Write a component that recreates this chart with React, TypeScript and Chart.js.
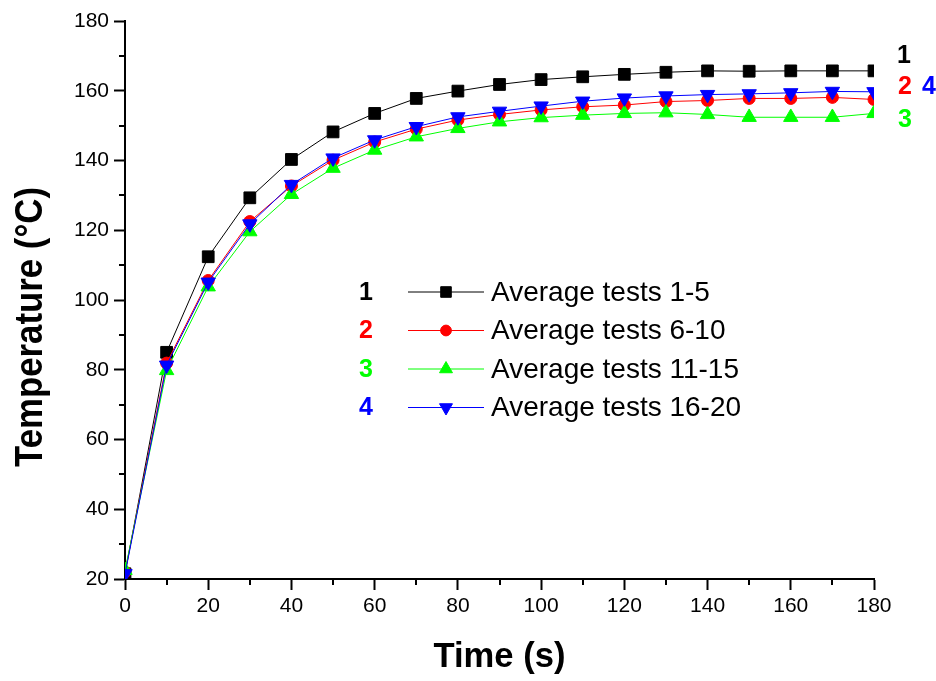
import React, { useEffect, useRef } from "react";
import { Chart, registerables } from "chart.js";
import { drawPoint } from "chart.js/helpers";

Chart.register(...registerables);

// ---- data ----
const times = [0, 10, 20, 30, 40, 50, 60, 70, 80, 90, 100, 110, 120, 130, 140, 150, 160, 170, 180];
const tests1to5 = [21.5, 85, 112.4, 129.3, 140.3, 148.2, 153.5, 157.8, 159.9, 161.8, 163.2, 164.0, 164.7, 165.3, 165.7, 165.6, 165.7, 165.7, 165.7];
const tests6to10 = [22, 81.9, 105.6, 122.5, 132.7, 140.1, 145.3, 149.0, 151.6, 153.2, 154.5, 155.4, 155.9, 156.9, 157.2, 157.8, 157.8, 158.1, 157.5];
const tests11to15 = [22.5, 79.8, 103.8, 119.6, 130.3, 137.8, 143.0, 146.8, 149.2, 151.1, 152.3, 153.0, 153.5, 153.7, 153.2, 152.4, 152.4, 152.4, 153.5];
const tests16to20 = [21.5, 81.3, 105.1, 121.8, 133.1, 140.7, 145.9, 149.7, 152.5, 154.1, 155.6, 157.0, 157.9, 158.5, 158.9, 159.1, 159.4, 159.8, 159.7];

const seriesLabels = ["Average tests 1-5", "Average tests 6-10", "Average tests 11-15", "Average tests 16-20"];
const seriesNumbers = ["1", "2", "3", "4"];
const xTitle = "Time (s)";
const yTitle = "Temperature (°C)";

const COLORS = ["#000000", "#ff0000", "#00ff00", "#0000ff"];
const STYLES = ["rect", "circle", "triangle", "triangle"];
const ROT = [0, 0, 0, 180];
const RADII = [8.3, 6, 8.3, 8.3];
const FONT = '"Liberation Sans", Arial, sans-serif';

const extrasPlugin = {
  id: "extras",
  afterDraw(chart: any) {
    const ctx = chart.ctx as CanvasRenderingContext2D;
    const xs = chart.scales.x;
    const ys = chart.scales.y;
    const area = chart.chartArea;
    ctx.save();
    // minor ticks
    ctx.strokeStyle = "#000";
    ctx.lineWidth = 2;
    for (let v = 10; v < 180; v += 20) {
      const px = Math.round(xs.getPixelForValue(v));
      ctx.beginPath();
      ctx.moveTo(px, area.bottom);
      ctx.lineTo(px, area.bottom + 6);
      ctx.stroke();
    }
    for (let v = 30; v < 180; v += 20) {
      const py = Math.round(ys.getPixelForValue(v));
      ctx.beginPath();
      ctx.moveTo(area.left, py);
      ctx.lineTo(area.left - 6, py);
      ctx.stroke();
    }
    ctx.fillStyle = "#000";
    // x title
    ctx.save();
    ctx.font = `bold 35px ${FONT}`;
    ctx.textAlign = "center";
    ctx.textBaseline = "alphabetic";
    let w = ctx.measureText(xTitle).width;
    ctx.translate((area.left + area.right) / 2, 667);
    ctx.scale(132 / w, 1);
    ctx.fillText(xTitle, 0, 0);
    ctx.restore();
    // y title
    ctx.save();
    ctx.font = `bold 39px ${FONT}`;
    ctx.textAlign = "center";
    ctx.textBaseline = "alphabetic";
    w = ctx.measureText(yTitle).width;
    ctx.translate(42, 327);
    ctx.rotate(-Math.PI / 2);
    ctx.scale(280 / w, 1);
    ctx.fillText(yTitle, 0, 0);
    ctx.restore();
    // right labels
    ctx.font = `bold 25px ${FONT}`;
    ctx.textAlign = "center";
    ctx.textBaseline = "middle";
    const rl: [string, number, number, string][] = [
      ["1", 904, 56, COLORS[0]],
      ["2", 905, 87, COLORS[1]],
      ["4", 929, 87, COLORS[3]],
      ["3", 905, 120, COLORS[2]],
    ];
    rl.forEach(([t, x, y, c]) => {
      ctx.fillStyle = c;
      ctx.fillText(t, x, y);
    });
    // legend
    const rows = [292, 330.5, 369, 407.5];
    chart.data.datasets.forEach((ds: any, i: number) => {
      const y = rows[i];
      ctx.font = `bold 25px ${FONT}`;
      ctx.textAlign = "center";
      ctx.textBaseline = "middle";
      ctx.fillStyle = COLORS[i];
      ctx.fillText(seriesNumbers[i], 366, y + 1);
      ctx.strokeStyle = COLORS[i];
      ctx.lineWidth = 1;
      ctx.beginPath();
      ctx.moveTo(408, y);
      ctx.lineTo(484, y);
      ctx.stroke();
      ctx.fillStyle = COLORS[i];
      drawPoint(ctx, { pointStyle: STYLES[i], radius: RADII[i] * 0.9, borderWidth: 1, rotation: ROT[i] } as any, 446, y);
      ctx.font = `28px ${FONT}`;
      ctx.textAlign = "left";
      ctx.fillStyle = "#000";
      ctx.fillText(seriesLabels[i], 491, y + 1);
    });
    ctx.restore();
  },
};

export default function App() {
  const ref = useRef<HTMLCanvasElement | null>(null);
  useEffect(() => {
    if (!ref.current) return;
    const all = [tests1to5, tests6to10, tests11to15, tests16to20];
    const chart = new Chart(ref.current, {
      type: "line",
      data: {
        datasets: all.map((arr, i) => ({
          label: seriesLabels[i],
          data: times.map((t, j) => ({ x: t, y: arr[j] })),
          borderColor: COLORS[i],
          backgroundColor: COLORS[i],
          pointBackgroundColor: COLORS[i],
          pointBorderColor: COLORS[i],
          borderWidth: 1,
          pointBorderWidth: 1,
          pointStyle: STYLES[i] as any,
          pointRotation: ROT[i],
          pointRadius: RADII[i],
          tension: 0,
          order: 4 - i,
        })),
      },
      options: {
        animation: false,
        responsive: false,
        layout: { autoPadding: false, padding: { left: 0, top: 21, right: 62, bottom: 0 } } as any,
        plugins: { legend: { display: false }, tooltip: { enabled: false } },
        scales: {
          x: {
            type: "linear",
            min: 0,
            max: 180,
            ticks: { stepSize: 20, color: "#000", font: { family: FONT, size: 21 }, padding: 4, maxRotation: 0 },
            grid: { drawOnChartArea: false, drawTicks: true, tickLength: 11, tickWidth: 2, tickColor: "#000" },
            border: { display: true, color: "#000", width: 2 },
            afterFit: (s: any) => { s.height = 102; },
          },
          y: {
            type: "linear",
            min: 20,
            max: 180,
            ticks: { stepSize: 20, color: "#000", font: { family: FONT, size: 21 }, padding: 5 },
            grid: { drawOnChartArea: false, drawTicks: true, tickLength: 11, tickWidth: 2, tickColor: "#000" },
            border: { display: true, color: "#000", width: 2 },
            afterFit: (s: any) => { s.width = 125; },
          },
        },
      },
      plugins: [extrasPlugin],
    });
    return () => chart.destroy();
  }, []);
  return (
    <div style={{ position: "absolute", left: 0, top: 0, width: 936, height: 681, background: "#fff" }}>
      <canvas ref={ref} width={936} height={681} style={{ width: 936, height: 681 }} />
    </div>
  );
}
